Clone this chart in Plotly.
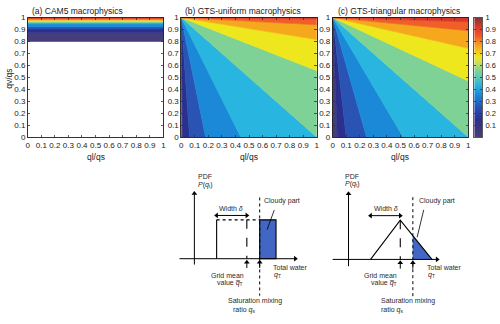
import plotly.graph_objects as go

W, H = 500, 324

# ---------------- data ----------------
tick_vals = [0, 0.1, 0.2, 0.3, 0.4, 0.5, 0.6, 0.7, 0.8, 0.9, 1.0]
tick_text = ["0", "0.1", "0.2", "0.3", "0.4", "0.5", "0.6", "0.7", "0.8", "0.9", "1"]
cbar_vals = [0.1, 0.2, 0.3, 0.4, 0.5, 0.6, 0.7, 0.8, 0.9, 1.0]
cbar_text = ["0.1", "0.2", "0.3", "0.4", "0.5", "0.6", "0.7", "0.8", "0.9", "1"]

# cloud-fraction band colours (0-0.1, 0.1-0.2, ..., 0.9-1)
band_colors = ["#463e7a", "#2b2f8d", "#2954b4", "#1b89d8", "#28b5df",
               "#7fd296", "#efe71e", "#f6a81d", "#ef5f27", "#d9352b"]

# (a) CAM5: horizontal band edges on qv/qs (from 0.8 to 1)
cam5_edges = [0.8, 0.875, 0.905, 0.924, 0.946, 0.959, 0.967, 0.978, 0.986, 0.995, 1.0]
# (b) GTS-uniform: contour intercepts (C = 0.1..0.5 on bottom edge ql/qs, 0.6..0.9 on right edge qv/qs)
uni_bottom = [0.012, 0.062, 0.18, 0.44, 1.0]
uni_right = [0.556, 0.816, 0.94, 0.988]
# (c) GTS-triangular
tri_bottom = [0.035, 0.1, 0.25, 0.52, 1.0]
tri_right = [0.47, 0.743, 0.89, 0.965]

cbar_scale = [[0.0, "#473d78"], [0.08, "#3a3580"], [0.15, "#2b2f8e"], [0.25, "#2752b4"],
              [0.35, "#1b87d8"], [0.43, "#26b2df"], [0.5, "#5cc8b0"], [0.56, "#80d395"],
              [0.62, "#c9df5a"], [0.67, "#efe71e"], [0.76, "#f6a81d"], [0.85, "#ef5526"],
              [0.93, "#d5352b"], [1.0, "#7a3838"]]
cbar_steps = [i / 200 for i in range(201)]   # colour-scale sampling for the colorbar strip

# schematic diagram geometry (arbitrary units: qt along x, PDF along y)
uni_yaxis = [-0.6, 6.7]
uni_xaxis = [-1.5, 10.2]
uni_left, uni_mean, uni_qs, uni_right_end, uni_top = 2.25, 5.3, 6.6, 8.25, 4.0
uni_width_y = 4.45
uni_qs_span = [6.3, -3.8]
uni_leader = [[8.07, 7.35], [5.0, 3.0]]

tri_yaxis = [-0.7, 6.75]
tri_xaxis = [-1.6, 8.95]
tri_left, tri_mean, tri_qs, tri_right_end, tri_top = 2.23, 5.23, 6.5, 8.43, 4.04
tri_qs_height = 2.44
tri_width_y = 4.5
tri_qs_span = [6.4, -3.8]
tri_leader = [[7.6, 6.93], [5.1, 2.27]]

pointer_span = [-0.95, -0.35]   # small upward arrows under the qt axis

# ---------------- helpers ----------------
def px_x(p):
    return p / W

def px_y(p):
    return 1 - p / H

fig = go.Figure()

def add_poly(xs, ys, color, xa, ya):
    fig.add_trace(go.Scatter(x=xs, y=ys, fill="toself", fillcolor=color, mode="lines",
                             line=dict(color=color, width=0.6), hoverinfo="skip",
                             showlegend=False, xaxis=xa, yaxis=ya))

# (a)
for k in range(len(cam5_edges) - 1):
    lo, hi = cam5_edges[k], cam5_edges[k + 1]
    add_poly([0, 1, 1, 0, 0], [lo, lo, hi, hi, lo], band_colors[k], "x", "y")

# (b), (c): rays from the (0,1) corner
def fan(bottom, right, xa, ya):
    pts = [(0.0, 0.0)] + [(b, 0.0) for b in bottom] + [(1.0, r) for r in right] + [(1.0, 1.0)]
    for k in range(len(pts) - 1):
        p0, p1 = pts[k], pts[k + 1]
        xs, ys = [0.0, p0[0]], [1.0, p0[1]]
        if p0[1] == 0.0 and p0[0] < 1.0 and p1[0] == 1.0 and p1[1] > 0.0:
            xs.append(1.0); ys.append(0.0)
        xs += [p1[0], 0.0]; ys += [p1[1], 1.0]
        add_poly(xs, ys, band_colors[k], xa, ya)

fan(uni_bottom, uni_right, "x2", "y2")
fan(tri_bottom, tri_right, "x3", "y3")

# colorbar as its own little axis
fig.add_trace(go.Heatmap(z=[[v] for v in cbar_steps], x=[0.5], y=cbar_steps, colorscale=cbar_scale,
                         zmin=0, zmax=1, showscale=False, hoverinfo="skip", xaxis="x6", yaxis="y6"))

# ---------------- diagrams ----------------
def line(xs, ys, xa, ya, dash="solid", width=1.1, color="black"):
    fig.add_trace(go.Scatter(x=xs, y=ys, mode="lines", line=dict(color=color, width=width, dash=dash),
                             hoverinfo="skip", showlegend=False, xaxis=xa, yaxis=ya))

def heads(xs, ys, symbols, xa, ya, size=5):
    fig.add_trace(go.Scatter(x=xs, y=ys, mode="markers", cliponaxis=False,
                             marker=dict(symbol=symbols, size=size, color="black", line=dict(width=0)),
                             hoverinfo="skip", showlegend=False, xaxis=xa, yaxis=ya))

annotations = []

def label(text, x, y, xa, ya, anchor="left", size=7):
    annotations.append(dict(x=x, y=y, xref=xa, yref=ya, text=text, showarrow=False, xanchor=anchor,
                            yanchor="middle", font=dict(size=size, family="Liberation Sans", color="#2a2a2a")))

def diagram(xa, ya, yaxis_span, xaxis_span, left, mean, qs, top, width_y, qs_span, leader):
    line([0, 0], yaxis_span, xa, ya, width=1)
    line(xaxis_span, [0, 0], xa, ya, width=1)
    line([mean, mean], [top, 0], xa, ya, dash="dash")
    line([qs, qs], qs_span, xa, ya, dash="dot", width=1)
    line(leader[0], leader[1], xa, ya, width=0.8)
    line([left, mean], [width_y, width_y], xa, ya, width=1)
    line([mean, mean], pointer_span, xa, ya, width=1)
    line([qs, qs], pointer_span, xa, ya, width=1)
    heads([0, xaxis_span[1], left, mean, mean, qs],
          [yaxis_span[1], 0, width_y, width_y, pointer_span[1], pointer_span[1]],
          ["triangle-up", "triangle-right", "triangle-left", "triangle-right", "triangle-up", "triangle-up"],
          xa, ya)

# uniform diagram
xa, ya = "x4", "y4"
line([uni_left, uni_left], [0, uni_top], xa, ya)
line([uni_left, uni_qs], [uni_top, uni_top], xa, ya, dash="dot")
fig.add_trace(go.Scatter(x=[uni_qs, uni_right_end, uni_right_end, uni_qs, uni_qs],
                         y=[0, 0, uni_top, uni_top, 0], fill="toself", fillcolor="#4266c4", mode="lines",
                         line=dict(color="black", width=1.1), hoverinfo="skip", showlegend=False,
                         xaxis=xa, yaxis=ya))
diagram(xa, ya, uni_yaxis, uni_xaxis, uni_left, uni_mean, uni_qs, uni_top, uni_width_y, uni_qs_span, uni_leader)
label("PDF", 0.14, 8.43, xa, ya)
label("<i>P</i>(<i>q</i><sub>t</sub>)", 0.14, 7.6, xa, ya)
label("Width <i>δ</i>", 3.67, 5.2, xa, ya, anchor="center")
label("Cloudy part", 8.9, 5.93, xa, ya, anchor="center")
label("Total water", 7.74, -0.9, xa, ya)
label("<i>q</i><sub>T</sub>", 7.87, -1.65, xa, ya)
label("Grid mean", 3.3, -1.73, xa, ya, anchor="center")
label("value <i>q̅</i><sub>T</sub>", 3.57, -2.53, xa, ya, anchor="center")
label("Saturation mixing", 6.1, -4.4, xa, ya, anchor="center")
label("ratio <i>q</i><sub>s</sub>", 3.67, -5.23, xa, ya)

# triangular diagram
xa, ya = "x5", "y5"
fig.add_trace(go.Scatter(x=[tri_qs, tri_qs, tri_right_end, tri_qs], y=[0, tri_qs_height, 0, 0],
                         fill="toself", fillcolor="#4266c4", mode="lines", line=dict(color="#4266c4", width=0.5),
                         hoverinfo="skip", showlegend=False, xaxis=xa, yaxis=ya))
line([tri_left, tri_mean, tri_right_end], [0, tri_top, 0], xa, ya)
diagram(xa, ya, tri_yaxis, tri_xaxis, tri_left, tri_mean, tri_qs, tri_top, tri_width_y, tri_qs_span, tri_leader)
label("PDF", -0.6, 8.57, xa, ya)
label("<i>P</i>(<i>q</i><sub>t</sub>)", -0.6, 7.77, xa, ya)
label("Width <i>δ</i>", 3.75, 5.2, xa, ya, anchor="center")
label("Cloudy part", 8.9, 6.0, xa, ya, anchor="center")
label("Total water", 7.73, -0.8, xa, ya)
label("<i>q</i><sub>T</sub>", 7.83, -1.63, xa, ya)
label("Grid mean", 3.25, -1.66, xa, ya, anchor="center")
label("value <i>q̅</i><sub>T</sub>", 3.57, -2.46, xa, ya, anchor="center")
label("Saturation mixing", 6.0, -4.33, xa, ya, anchor="center")
label("ratio <i>q</i><sub>s</sub>", 3.1, -5.23, xa, ya)

# titles / axis labels for the panels
title_font = dict(size=8.5, family="Liberation Sans", color="#222")
for txt, x0 in [("(a) CAM5 macrophysics", 28), ("(b) GTS-uniform macrophysics", 183),
                ("(c) GTS-triangular macrophysics", 337)]:
    annotations.append(dict(x=px_x(x0), y=px_y(7), xref="paper", yref="paper", text=txt, showarrow=False,
                            xanchor="left", yanchor="middle", font=title_font))
for xc in [94.5, 249.5, 402.5]:
    annotations.append(dict(x=px_x(xc), y=px_y(157), xref="paper", yref="paper", text="ql/qs",
                            showarrow=False, xanchor="center", yanchor="middle", font=title_font))
annotations.append(dict(x=px_x(7), y=px_y(77), xref="paper", yref="paper", text="qv/qs", textangle=-90,
                        showarrow=False, xanchor="center", yanchor="middle", font=title_font))

axis_common = dict(range=[0, 1], tickvals=tick_vals, ticktext=tick_text, ticks="inside", ticklen=2.5,
                   tickwidth=0.8, tickcolor="#333", showline=True, linecolor="black", linewidth=0.8,
                   mirror="allticks", showgrid=False, zeroline=False, tickangle=0,
                   tickfont=dict(size=8, family="Liberation Sans", color="#222"), fixedrange=True)

ydom = [px_y(137), px_y(14)]
layout = dict(width=W, height=H, margin=dict(l=0, r=0, t=0, b=0), paper_bgcolor="white",
              plot_bgcolor="white", showlegend=False, annotations=annotations)
for i, (x0, x1) in enumerate([(26, 163), (181, 318), (334, 471)]):
    s = "" if i == 0 else str(i + 1)
    layout["xaxis" + s] = dict(domain=[px_x(x0), px_x(x1)], anchor="y" + s, **axis_common)
    layout["yaxis" + s] = dict(domain=ydom, anchor="x" + s, **axis_common)

# colorbar axes
layout["xaxis6"] = dict(domain=[px_x(477), px_x(485)], range=[0, 1], anchor="y6", showticklabels=False,
                        ticks="", showline=True, linecolor="#333", linewidth=0.8, mirror=True,
                        showgrid=False, zeroline=False, fixedrange=True)
layout["yaxis6"] = dict(domain=ydom, range=[0, 1], anchor="x6", side="right", tickvals=cbar_vals,
                        ticktext=cbar_text, ticks="inside", ticklen=2, tickwidth=0.8, tickcolor="#333",
                        showline=True, linecolor="#333", linewidth=0.8, mirror="allticks", showgrid=False,
                        zeroline=False, fixedrange=True, ticklabelstandoff=1,
                        tickfont=dict(size=7.5, family="Liberation Sans", color="#222"))

diag_ydom = [0, px_y(170)]
layout["xaxis4"] = dict(domain=[px_x(160), px_x(330)], range=[(160 - 194.3) / 10, (330 - 194.3) / 10],
                        visible=False, anchor="y4", fixedrange=True)
layout["yaxis4"] = dict(domain=diag_ydom, range=[(262 - 324) / 10, (262 - 170) / 10], visible=False,
                        anchor="x4", fixedrange=True)
layout["xaxis5"] = dict(domain=[px_x(320), px_x(500)], range=[(320 - 350) / 10, (500 - 350) / 10],
                        visible=False, anchor="y5", fixedrange=True)
layout["yaxis5"] = dict(domain=diag_ydom, range=[(262.7 - 324) / 10, (262.7 - 170) / 10], visible=False,
                        anchor="x5", fixedrange=True)

fig.update_layout(**layout)
fig.write_html("out.html", config={"displayModeBar": False, "staticPlot": True},
               post_script="document.body.style.margin='0px';document.body.style.overflow='hidden';")
